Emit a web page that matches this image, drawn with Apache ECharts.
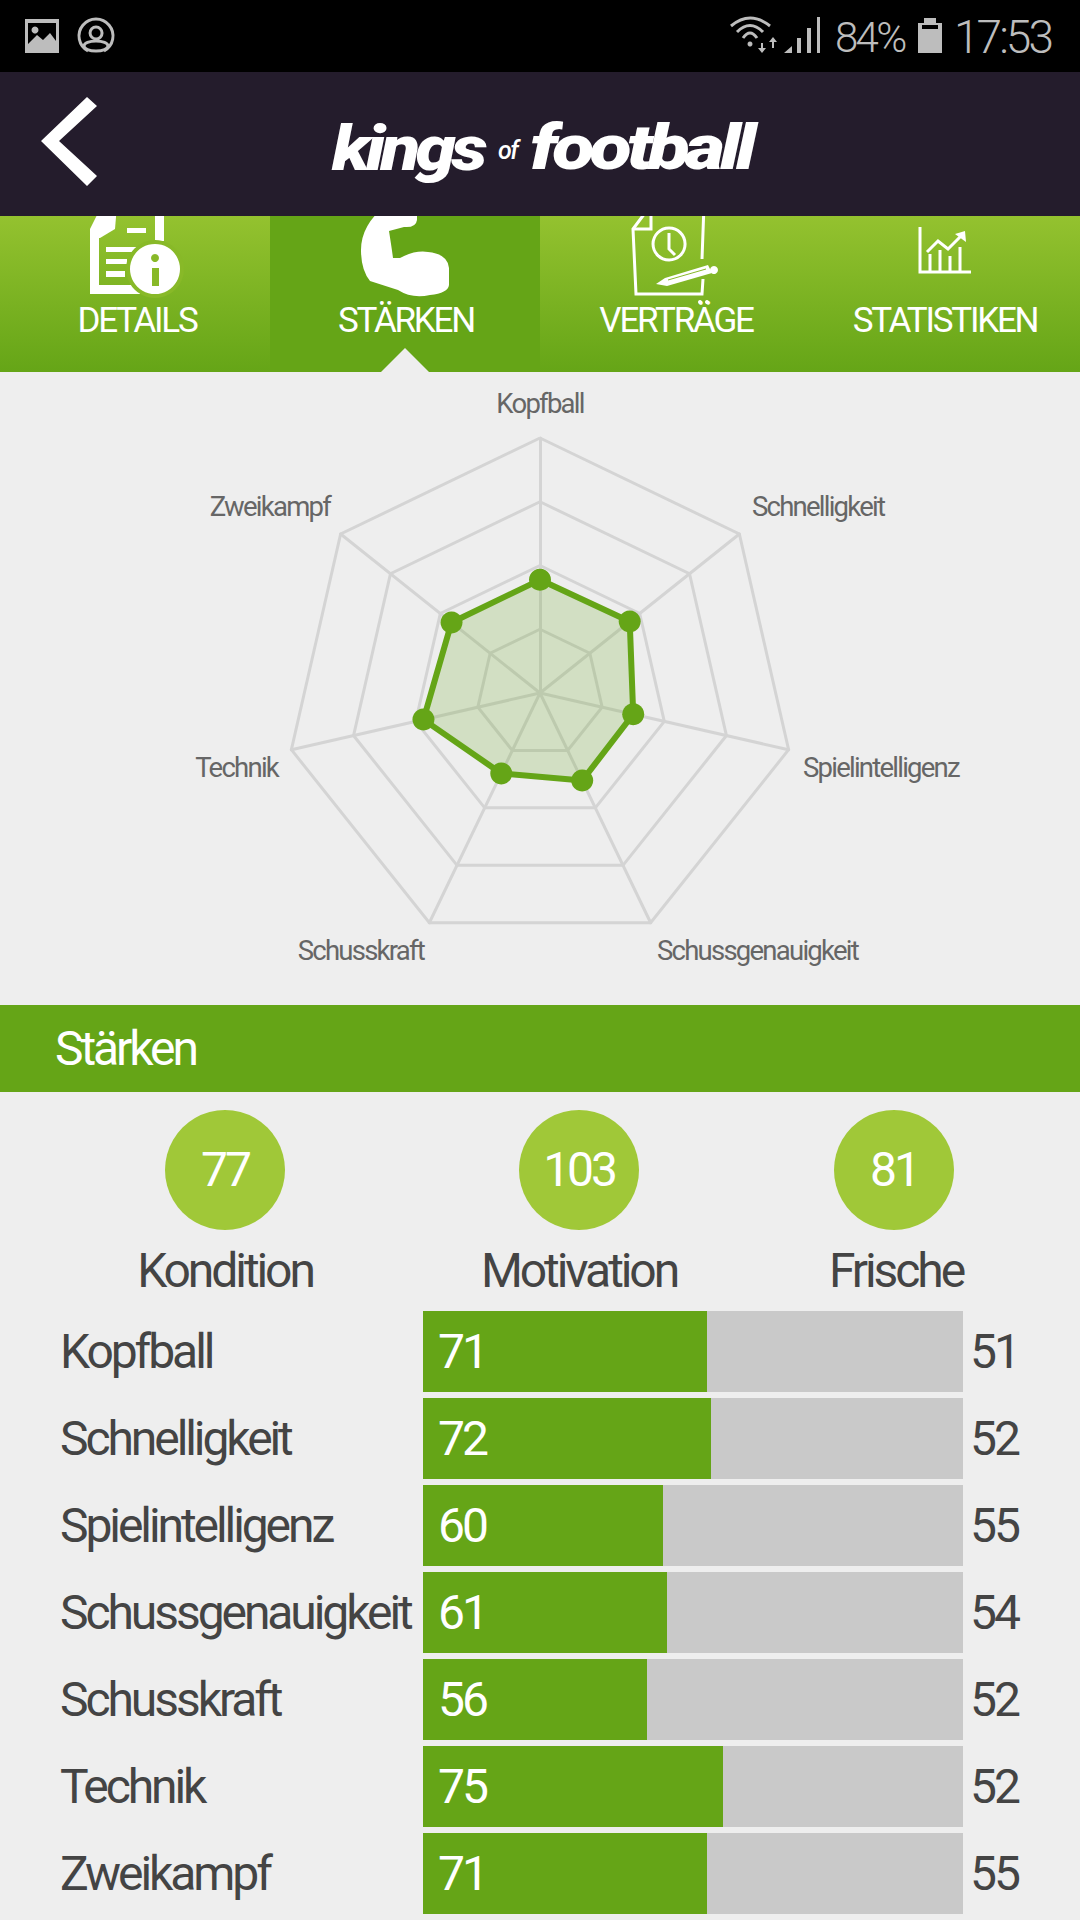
<!DOCTYPE html>
<html lang="de">
<head>
    <title>Stärken</title>
    <meta charset="utf-8"/>
    <style>
        html, body { margin: 0; padding: 0; background: #eeeeee; }
        #main { width: 1080px; height: 1920px; }
        /* the app's Roboto is set very tight */
        #main text { letter-spacing: -0.064em; }
    </style>
</head>
<body>
<div id="main"></div>
<script src="https://cdn.jsdelivr.net/npm/echarts@6/dist/echarts.min.js"></script>
<script type="text/javascript">
    // data
    var categories = ['Kopfball', 'Schnelligkeit', 'Spielintelligenz', 'Schussgenauigkeit', 'Schusskraft', 'Technik', 'Zweikampf'];
    var currentValues = [71, 72, 60, 61, 56, 75, 71];
    var potentialValues = [51, 52, 55, 54, 52, 52, 55];
    var radarMax = 160;
    var barMax = 135;
    var tiles = ['Kondition', 'Motivation', 'Frische'];
    var tileValues = [77, 103, 81];
    var tabs = ['DETAILS', 'STÄRKEN', 'VERTRÄGE', 'STATISTIKEN'];

    var GREEN = '#65a517';
    var TAB_BG = '#88b928';
    var GREY = '#bdbdbd';
    var WHITE = '#ffffff';
    var FONT = 'Roboto, sans-serif';
    var shapeCount = 0;

    function label(x, y, str, size, fill, align, weight) {
        return {
            type: 'text', x: x, y: y, silent: true,
            style: {
                text: str, fill: fill, textAlign: align || 'center', textVerticalAlign: 'middle',
                font: (weight || '400') + ' ' + size + 'px ' + FONT
            }
        };
    }
    function rect(x, y, w, h, fill) {
        return {type: 'rect', silent: true, shape: {x: x, y: y, width: w, height: h}, style: {fill: fill}};
    }
    // the graphic component has no raw path type, so each icon path gets registered
    function pathType(d) {
        var name = 'iconPath' + (shapeCount++);
        echarts.graphic.registerShape(name, echarts.graphic.extendPath(d));
        return name;
    }
    function fillPath(d, fill) {
        return {type: pathType(d), silent: true, style: {fill: fill}};
    }
    function linePath(d, stroke, width) {
        return {type: pathType(d), silent: true, style: {fill: 'none', stroke: stroke, lineWidth: width}};
    }
    function circle(x, y, r, fill) {
        return {type: 'circle', silent: true, shape: {cx: x, cy: y, r: r}, style: {fill: fill}};
    }

    var tabGradient = new echarts.graphic.LinearGradient(0, 0, 0, 1, [
        {offset: 0, color: '#94c22f'},
        {offset: 1, color: GREEN}
    ]);

    var graphics = [];

    // green tab strip, icons run up under the nav bar
    graphics.push(rect(0, 216, 1080, 156, tabGradient));
    graphics.push(rect(270, 216, 270, 156, GREEN));
    graphics.push(fillPath('M381 372L405 348L429 372Z', '#eeeeee'));
    var tabX = [137, 406, 676, 945];
    tabs.forEach(function (t, i) {
        graphics.push(label(tabX[i], 320, t, 35, WHITE));
    });

    // details icon
    graphics.push(fillPath('M102 205H117L115 229L100 238H90V229Z', WHITE));
    graphics.push(linePath('M94.5 232V289.5H140', WHITE, 9));
    graphics.push(linePath('M159.5 205V241', WHITE, 9));
    graphics.push(rect(127, 228, 19, 5, WHITE));
    graphics.push(rect(106, 247, 31, 5, WHITE));
    graphics.push(rect(106, 259, 21, 5, WHITE));
    graphics.push(rect(106, 271, 19, 6, WHITE));
    graphics.push(circle(155, 269, 29, TAB_BG));
    graphics.push(circle(155, 269, 25, WHITE));
    graphics.push(circle(155, 258, 4, TAB_BG));
    graphics.push(rect(152, 268, 7, 18, TAB_BG));

    // arm icon
    graphics.push(fillPath('M386 205L417 205L417 220Q416 228 404 227L389 231Q392 250 393 258L400 258Q415 250 428 252Q448 254 449 268V285Q448 293 430 295Q412 299 398 290L370 281Q361 270 361 250Q361 225 386 205Z', WHITE));

    // contract icon
    graphics.push(linePath('M651 205L633 229L636 294L702 294L703 279M702 259L704 205', WHITE, 3));
    graphics.push(linePath('M651 205V229H633', WHITE, 3));
    graphics.push(linePath('M669 228A16 16 0 1 0 669.1 260A16 16 0 1 0 669 228ZM669 233V249L675 255', WHITE, 3));
    graphics.push(fillPath('M656 284L665 278L708 265L712 273L667 286Z', WHITE));
    graphics.push(linePath('M668 280L706 269', TAB_BG, 1));
    graphics.push(circle(714, 270, 4, WHITE));
    graphics.push(circle(700, 302, 2, WHITE));
    graphics.push(circle(707, 302, 2, WHITE));

    // statistics icon
    graphics.push(linePath('M920 227V272H971', WHITE, 3));
    graphics.push(linePath('M930 272V254M940 272V250M950 272V256M960 272V247', WHITE, 3));
    graphics.push(linePath('M927 252L938 241L948 249L962 235', WHITE, 3));
    graphics.push(fillPath('M955 234L965 231L966 242Z', WHITE));

    // status and nav bars
    graphics.push(rect(0, 0, 1080, 72, '#000000'));
    graphics.push(rect(0, 72, 1080, 144, '#241c2c'));

    // status bar, left
    graphics.push(rect(25, 19, 34, 34, GREY));
    graphics.push(fillPath('M28 23H56V41L50 33L43 40L37 35L28 44Z', '#000000'));
    graphics.push(circle(35, 30, 3.5, GREY));
    graphics.push(linePath('M88 51A17 17 0 1 1 104 51', GREY, 3));
    graphics.push(linePath('M96 27A6 6 0 1 0 96.1 39A6 6 0 1 0 96 27Z', GREY, 3));
    graphics.push({type: 'ellipse', silent: true, shape: {cx: 96, cy: 46, rx: 12, ry: 5}, style: {fill: 'none', stroke: GREY, lineWidth: 3}});

    // status bar, right
    graphics.push(linePath('M731 26Q750 10 770 26M737 32Q750 19 763 32M743 38Q750 28 757 38', GREY, 3));
    graphics.push(circle(750, 44, 2.5, GREY));
    graphics.push(linePath('M762 43V50M773 41V48', GREY, 2));
    graphics.push(fillPath('M758 48H766L762 53ZM769 42H777L773 37Z', GREY));
    graphics.push(fillPath('M784 53L792 46V53ZM797 53V38H801V53ZM807 53V28H811V53ZM817 53V17H820V53Z', GREY));
    graphics.push(fillPath('M918 23H924V18H936V23H942V53H918ZM922 25V29H938V25Z', GREY));
    graphics.push(label(835, 37, '84%', 42, GREY, 'left', '300'));
    graphics.push(label(954, 37, '17:53', 46, GREY, 'left', '300'));

    // back arrow
    graphics.push(fillPath('M87 97L97 106L59 141L97 176L87 186L41 141Z', WHITE));

    // logo
    var logoFont = 'italic 900 62px ' + FONT;
    var logoKings = label(332, 148, 'kings', 62, WHITE, 'left');
    logoKings.style.font = logoFont;
    logoKings.scaleX = 1.17;
    var logoOf = label(498, 150, 'of', 25, WHITE, 'left', 'italic 500');
    var logoFootball = label(530, 148, 'football', 62, WHITE, 'left');
    logoFootball.style.font = logoFont;
    logoFootball.scaleX = 1.25;
    graphics.push(logoKings, logoOf, logoFootball);

    // radar labels sit where the app put them, not on the axis ends
    var radarLabelPos = [
        [540, 403, 'center'], [752, 506, 'left'], [803, 767, 'left'], [657, 950, 'left'],
        [424, 950, 'right'], [278, 767, 'right'], [330, 506, 'right']
    ];
    categories.forEach(function (c, i) {
        var p = radarLabelPos[i];
        graphics.push(label(p[0], p[1], c, 27.5, '#666666', p[2]));
    });

    // section header
    graphics.push(rect(0, 1005, 1080, 87, GREEN));
    graphics.push(label(55, 1048, 'Stärken', 48, WHITE, 'left'));

    // the three round tiles
    var tileX = [225, 579, 894];
    var tileTextX = [225, 579, 896];
    tiles.forEach(function (t, i) {
        graphics.push(circle(tileX[i], 1170, 60, '#a0c838'));
        graphics.push(label(tileX[i], 1169, String(tileValues[i]), 48, WHITE));
        graphics.push(label(tileTextX[i], 1270, t, 48, '#444444'));
    });

    // ECharts radar runs counter-clockwise, the reference runs clockwise from the top
    var radarNames = [categories[0]].concat(categories.slice(1).reverse());
    var radarValues = [currentValues[0]].concat(currentValues.slice(1).reverse());

    var myChart = echarts.init(document.getElementById('main'), null, {renderer: 'svg'});

    var option = {
        animation: false,
        backgroundColor: '#eeeeee',
        graphic: {elements: graphics},
        radar: {
            center: [540, 693],
            radius: 255,
            startAngle: 90,
            splitNumber: 4,
            shape: 'polygon',
            axisName: {show: false},
            splitArea: {show: false},
            axisLine: {lineStyle: {color: '#d4d4d4', width: 3}},
            splitLine: {lineStyle: {color: '#d4d4d4', width: 3}},
            indicator: radarNames.map(function (c) {
                return {name: c, min: 0, max: radarMax};
            })
        },
        grid: {left: 423, top: 1308, width: 540, height: 609, containLabel: false},
        xAxis: {type: 'value', min: 0, max: barMax, show: false},
        yAxis: [{
            type: 'category',
            inverse: true,
            data: categories,
            axisLine: {show: false},
            axisTick: {show: false},
            axisLabel: {
                align: 'left', margin: 363, interval: 0,
                color: '#444444', fontFamily: 'Roboto', fontWeight: 400, fontSize: 48
            }
        }, {
            type: 'category',
            inverse: true,
            position: 'right',
            data: potentialValues,
            axisLine: {show: false},
            axisTick: {show: false},
            axisLabel: {
                margin: 7, interval: 0,
                color: '#444444', fontFamily: 'Roboto', fontWeight: 400, fontSize: 48
            }
        }],
        series: [{
            type: 'radar',
            symbol: 'circle',
            symbolSize: 22,
            itemStyle: {color: GREEN},
            lineStyle: {color: GREEN, width: 6},
            areaStyle: {color: GREEN, opacity: 0.2},
            data: [{value: radarValues}]
        }, {
            type: 'bar',
            barWidth: 81,
            data: currentValues,
            itemStyle: {color: GREEN},
            showBackground: true,
            backgroundStyle: {color: '#c9c9c9'},
            label: {
                show: true, position: 'insideLeft', distance: 15,
                color: '#ffffff', fontFamily: 'Roboto', fontWeight: 400, fontSize: 48
            }
        }]
    };

    myChart.setOption(option, true);
</script>
</body>
</html>
